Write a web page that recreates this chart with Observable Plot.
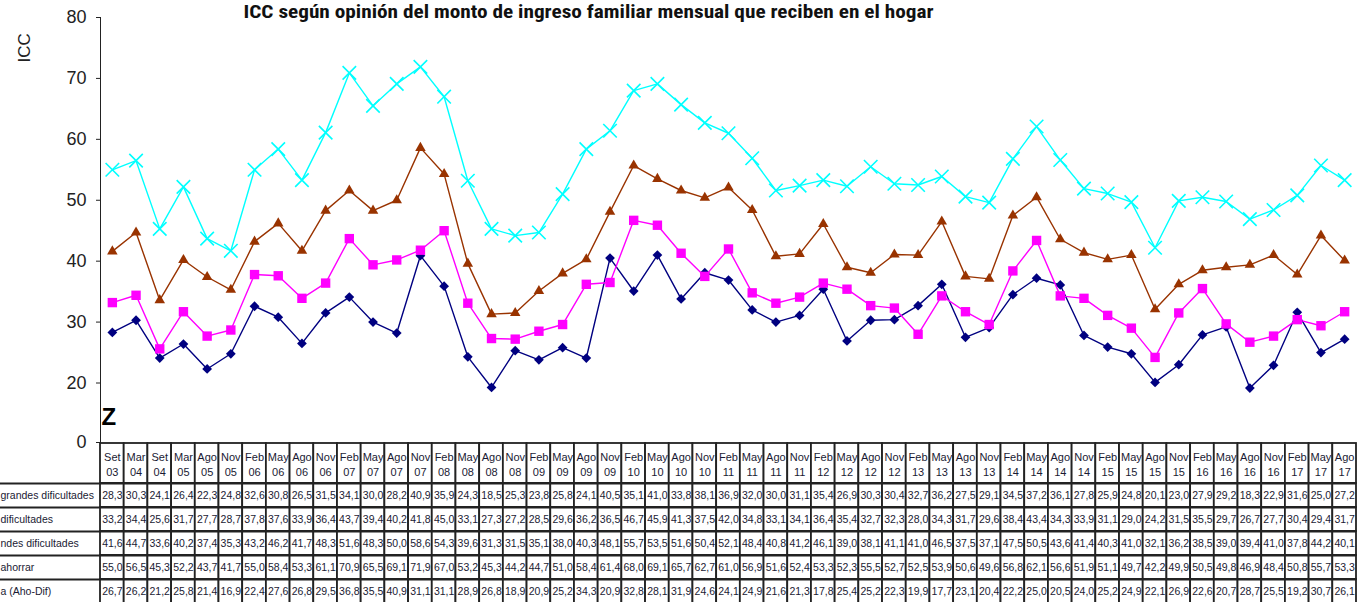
<!DOCTYPE html>
<html><head><meta charset="utf-8">
<script src="https://cdn.jsdelivr.net/npm/d3@7"></script>
<script src="https://cdn.jsdelivr.net/npm/@observablehq/plot@0.6"></script>
<style>
body{margin:0;background:#fff;}
#wrap{position:relative;width:1371px;height:602px;overflow:hidden;background:#fff;}
#wrap svg{position:absolute;left:0;}
</style></head><body><div id="wrap"></div>
<script>
const title = "ICC según opinión del monto de ingreso familiar mensual que reciben en el hogar";
const yLabel = "ICC";
const periods = ["Set 03","Mar 04","Set 04","Mar 05","Ago 05","Nov 05","Feb 06","May 06","Ago 06","Nov 06",
"Feb 07","May 07","Ago 07","Nov 07","Feb 08","May 08","Ago 08","Nov 08","Feb 09","May 09",
"Ago 09","Nov 09","Feb 10","May 10","Ago 10","Nov 10","Feb 11","May 11","Ago 11","Nov 11",
"Feb 12","May 12","Ago 12","Nov 12","Feb 13","May 13","Ago 13","Nov 13","Feb 14","May 14",
"Ago 14","Nov 14","Feb 15","May 15","Ago 15","Nov 15","Feb 16","May 16","Ago 16","Nov 16",
"Feb 17","May 17","Ago 17"];
const rowLabels = ["grandes dificultades","dificultades","ndes dificultades","ahorrar","a (Aho-Dif)"];
const grandesDif = [28.3,30.3,24.1,26.4,22.3,24.8,32.6,30.8,26.5,31.5,34.1,30.0,28.2,40.9,35.9,24.3,18.5,25.3,23.8,25.8,24.1,40.5,35.1,41.0,33.8,38.1,36.9,32.0,30.0,31.1,35.4,26.9,30.3,30.4,32.7,36.2,27.5,29.1,34.5,37.2,36.1,27.8,25.9,24.8,20.1,23.0,27.9,29.2,18.3,22.9,31.6,25.0,27.2];
const conDif = [33.2,34.4,25.6,31.7,27.7,28.7,37.8,37.6,33.9,36.4,43.7,39.4,40.2,41.8,45.0,33.1,27.3,27.2,28.5,29.6,36.2,36.5,46.7,45.9,41.3,37.5,42.0,34.8,33.1,34.1,36.4,35.4,32.7,32.3,28.0,34.3,31.7,29.6,38.4,43.4,34.3,33.9,31.1,29.0,24.2,31.5,35.5,29.7,26.7,27.7,30.4,29.4,31.7];
const sinGrandesDif = [41.6,44.7,33.6,40.2,37.4,35.3,43.2,46.2,41.7,48.3,51.6,48.3,50.0,58.6,54.3,39.6,31.3,31.5,35.1,38.0,40.3,48.1,55.7,53.5,51.6,50.4,52.1,48.4,40.8,41.2,46.1,39.0,38.1,41.1,41.0,46.5,37.5,37.1,47.5,50.5,43.6,41.4,40.3,41.0,32.1,36.2,38.5,39.0,39.4,41.0,37.8,44.2,40.1];
const ahorrar = [55.0,56.5,45.3,52.2,43.7,41.7,55.0,58.4,53.3,61.1,70.9,65.5,69.1,71.9,67.0,53.2,45.3,44.2,44.7,51.0,58.4,61.4,68.0,69.1,65.7,62.7,61.0,56.9,51.6,52.4,53.3,52.3,55.5,52.7,52.5,53.9,50.6,49.6,56.8,62.1,56.6,51.9,51.1,49.7,42.2,49.9,50.5,49.8,46.9,48.4,50.8,55.7,53.3];
const brecha = [26.7,26.2,21.2,25.8,21.4,16.9,22.4,27.6,26.8,29.5,36.8,35.5,40.9,31.1,31.1,28.9,26.8,18.9,20.9,25.2,34.3,20.9,32.8,28.1,31.9,24.6,24.1,24.9,21.6,21.3,17.8,25.4,25.2,22.3,19.9,17.7,23.1,20.4,22.2,25.0,20.5,24.0,25.2,24.9,22.1,26.9,22.6,20.7,28.7,25.5,19.2,30.7,26.1];
const yTicks = [0,20,30,40,50,60,70,80];

const tableSeries = [grandesDif, conDif, sinGrandesDif, ahorrar, brecha];
const plotted = [
  {values: grandesDif, color: "#000080", symbol: "diamond2", r: 4.4, filled: true},
  {values: conDif, color: "#ff00ff", symbol: "square", r: 5.3, filled: true},
  {values: sinGrandesDif, color: "#993300", symbol: "triangle", r: 3.9, filled: true},
  {values: ahorrar, color: "#00ffff", symbol: "times", r: 6.2, filled: false}
];

const font = '"Liberation Sans", Arial, sans-serif';
const marks = [];
for (const s of plotted) {
  const recs = periods.map((p, i) => ({period: p, value: s.values[i]}));
  marks.push(Plot.line(recs, {x: "period", y: "value", stroke: s.color, strokeWidth: 1.4}));
  marks.push(Plot.dot(recs, s.filled
    ? {x: "period", y: "value", symbol: () => s.symbol, r: s.r, fill: s.color, stroke: "none"}
    : {x: "period", y: "value", symbol: () => s.symbol, r: s.r, fill: "none", stroke: s.color, strokeWidth: 1.6}));
}
marks.push(Plot.text(["Z"], {y: [8.4], frameAnchor: "left", dx: 1, text: d => d, fontSize: 24, fontWeight: "bold", fill: "#000", fontFamily: font}));
marks.push(Plot.text([yLabel], {frameAnchor: "top-left", dx: -83, dy: 45, rotate: -90, text: d => d, fontSize: 17, fill: "#222", fontFamily: font}));
marks.push(Plot.text([title], {frameAnchor: "top-left", dx: 143, dy: -12, textAnchor: "start", text: d => d, fontSize: 18, fontWeight: "bold", fill: "#111", fontFamily: '"Liberation Sans Narrow", "Roboto Condensed", "Liberation Sans", Arial, sans-serif', className: "ttl"}));

const chart = Plot.plot({
  width: 1371, height: 460,
  marginTop: 17, marginBottom: 18, marginLeft: 100, marginRight: 15,
  style: {fontFamily: font, fontSize: "18px", color: "#222", background: "transparent"},
  x: {type: "point", domain: periods, padding: 0.5, axis: null},
  y: {type: "linear", domain: [0, 20, 80], range: [442, 382.5, 17], ticks: yTicks, tickSize: 4, tickPadding: 10, line: true, label: null, tickFormat: d => String(d)},
  marks
});
chart.style.top = "0px";
d3.select(chart).selectAll(".ttl text").attr("textLength", 690).attr("lengthAdjust", "spacingAndGlyphs");

// table
const edges = [0, 40, 64, 88, 112, 136, 160];
const cells = [];
for (let r = 0; r < 6; r++) for (const p of periods) cells.push({period: p, y1: edges[r], y2: edges[r + 1]});
const vals = [];
tableSeries.forEach((arr, r) => arr.forEach((v, i) => vals.push({period: periods[i], y: (edges[r + 1] + edges[r + 2]) / 2, v})));
const labelRecs = rowLabels.map((l, r) => ({label: l, y: (edges[r + 1] + edges[r + 2]) / 2}));

const table = Plot.plot({
  width: 1371, height: 162,
  marginTop: 0, marginBottom: 0, marginLeft: 100, marginRight: 15,
  style: {fontFamily: font, fontSize: "10.5px", background: "transparent"},
  x: {type: "band", domain: periods, padding: 0, axis: null},
  y: {type: "linear", domain: [0, 160], range: [1, 161], axis: null},
  marks: [
    Plot.barY(cells, {x: "period", y1: "y1", y2: "y2", fill: "white", stroke: "#222", strokeWidth: 1.8, inset: 0}),
    Plot.ruleY(edges.slice(1), {stroke: "#222", strokeWidth: 1.8, insetLeft: -100}),
    Plot.text(periods, {x: d => d, y: periods.map(() => (edges[0] + edges[1]) / 2), text: d => d.replace(" ", "\n"), lineHeight: 1.35, fontSize: 11, fill: "#1a1a33"}),
    Plot.text(vals, {x: "period", y: "y", text: d => d.v.toFixed(1).replace(".", ","), fontSize: 10.5, fill: "#1a1a33"}),
    Plot.text(labelRecs, {y: "y", text: "label", frameAnchor: "left", textAnchor: "start", dx: -100, fontSize: 10.5, fill: "#1a1a33"})
  ]
});
table.style.top = "442px";
const wrap = document.getElementById("wrap");
wrap.appendChild(table);
wrap.appendChild(chart);
</script></body></html>
